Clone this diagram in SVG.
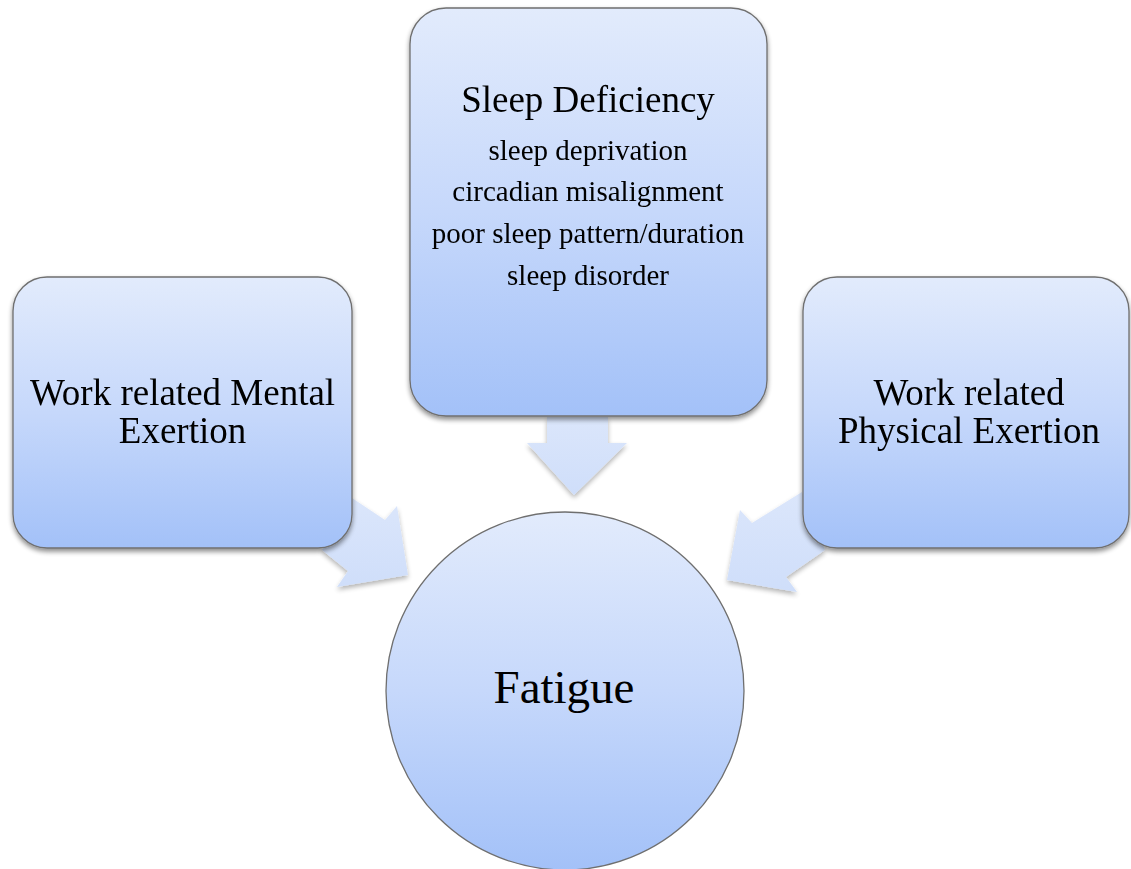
<svg xmlns="http://www.w3.org/2000/svg" width="1131" height="869" viewBox="0 0 1131 869">
<defs>
<linearGradient id="g" x1="0" y1="0" x2="0" y2="1">
<stop offset="0" stop-color="#e2ebfc"/>
<stop offset="0.5" stop-color="#c6d8fb"/>
<stop offset="1" stop-color="#a3c1f8"/>
</linearGradient>
<linearGradient id="ga" x1="0" y1="0" x2="0" y2="1">
<stop offset="0" stop-color="#dbe6fb"/>
<stop offset="1" stop-color="#cfdefa"/>
</linearGradient>
<filter id="sh" x="-10%" y="-10%" width="120%" height="125%">
<feGaussianBlur in="SourceAlpha" stdDeviation="2.5"/>
<feOffset dx="0" dy="3" result="b"/>
<feComponentTransfer><feFuncA type="linear" slope="0.45"/></feComponentTransfer>
<feMerge><feMergeNode/><feMergeNode in="SourceGraphic"/></feMerge>
</filter>
<filter id="sha" x="-20%" y="-20%" width="140%" height="140%">
<feGaussianBlur in="SourceAlpha" stdDeviation="2.5"/>
<feOffset dx="0" dy="3"/>
<feComponentTransfer><feFuncA type="linear" slope="0.3"/></feComponentTransfer>
<feMerge><feMergeNode/><feMergeNode in="SourceGraphic"/></feMerge>
</filter>
</defs>
<style>
.box{fill:url(#g);stroke:#6f6f6f;stroke-width:1.3}
.arr{fill:url(#ga)}
.t{fill:#000;text-anchor:middle}
.big{font-size:37px}
.sub{font-size:29px}
.fat{font-size:47px}
</style>
<g id="connectors" filter="url(#sha)">
<path class="arr" d="M547,417 L608,417 L608,443 L627,443 L574,495 L527,443 L547,443 Z"/>
<path class="arr" d="M352,498 L385,520 L397,506 L408,575 L337,587 L348,571 L322,550 Z"/>
<path class="arr" d="M802,492 L752,523 L740,510 L727,580 L797,592 L786,577 L825,550 Z"/>
</g>
<g id="sleep" filter="url(#sh)">
<rect class="box" x="410" y="8" width="357" height="408" rx="36"/>
<g font-family="Liberation Serif, Times New Roman, serif">
<text class="t big" x="588" y="112">Sleep Deficiency</text>
<text class="t sub" x="588" y="160">sleep deprivation</text>
<text class="t sub" x="588" y="201">circadian misalignment</text>
<text class="t sub" x="588" y="243">poor sleep pattern/duration</text>
<text class="t sub" x="588" y="285">sleep disorder</text>
</g>
</g>
<g id="mental" filter="url(#sh)">
<rect class="box" x="13" y="277" width="339" height="271" rx="34"/>
<g font-family="Liberation Serif, Times New Roman, serif">
<text class="t big" x="182.5" y="405">Work related Mental</text>
<text class="t big" x="182.5" y="443">Exertion</text>
</g>
</g>
<g id="physical" filter="url(#sh)">
<rect class="box" x="803" y="277" width="326" height="271" rx="34"/>
<g font-family="Liberation Serif, Times New Roman, serif">
<text class="t big" x="969" y="405">Work related</text>
<text class="t big" x="969" y="443">Physical Exertion</text>
</g>
</g>
<g id="fatigue">
<circle class="box" cx="565" cy="691" r="179"/>
<text class="t fat" font-family="Liberation Serif, Times New Roman, serif" x="564" y="703">Fatigue</text>
</g>
</svg>
